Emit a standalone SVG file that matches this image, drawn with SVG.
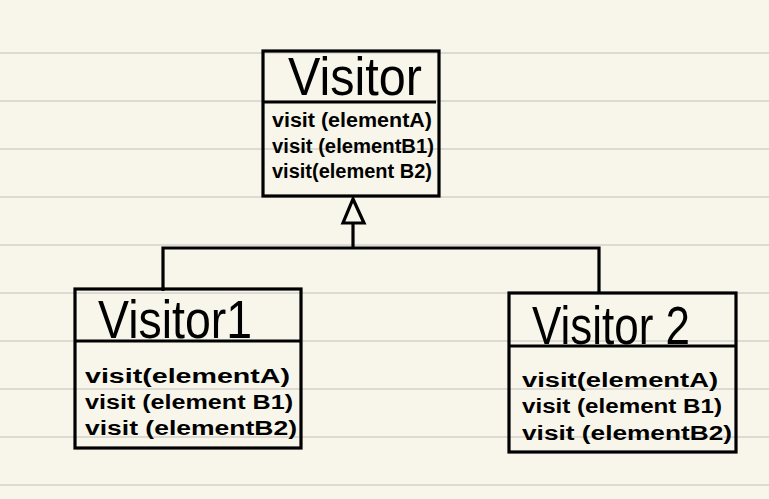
<svg xmlns="http://www.w3.org/2000/svg" width="769" height="499" viewBox="0 0 769 499">
<defs>
<style>
.bg{fill:#f8f6ea}
.rule{stroke:#dcdad3;stroke-width:2}
.box{fill:none;stroke:#000;stroke-width:3.2}
.div{stroke:#000;stroke-width:3}
.title{font-family:"Liberation Sans","DejaVu Sans",sans-serif;font-size:54px;fill:#000}
.m{font-family:"Liberation Sans","DejaVu Sans",sans-serif;font-size:20px;font-weight:bold;fill:#000}
.conn{fill:none;stroke:#000;stroke-width:3.2}
</style>
</defs>
<rect class="bg" x="0" y="0" width="769" height="499"/>
<g id="rules">
<line class="rule" x1="0" y1="53" x2="769" y2="53"/>
<line class="rule" x1="0" y1="101" x2="769" y2="101"/>
<line class="rule" x1="0" y1="149" x2="769" y2="149"/>
<line class="rule" x1="0" y1="197" x2="769" y2="197"/>
<line class="rule" x1="0" y1="245" x2="769" y2="245"/>
<line class="rule" x1="0" y1="293" x2="769" y2="293"/>
<line class="rule" x1="0" y1="341" x2="769" y2="341"/>
<line class="rule" x1="0" y1="389" x2="769" y2="389"/>
<line class="rule" x1="0" y1="437" x2="769" y2="437"/>
<line class="rule" x1="0" y1="485" x2="769" y2="485"/>
</g>
<g id="connectors">
<polyline class="conn" points="163,291 163,248 599,248 599,293"/>
<line class="conn" x1="353" y1="248" x2="353" y2="223"/>
<polygon class="conn" points="353,199 364,223 343,223" fill="#f8f6ea" style="fill:#f8f6ea"/>
</g>
<g id="Visitor">
<rect class="box" x="263" y="51" width="176" height="145"/>
<line class="div" x1="263" y1="102" x2="436" y2="102"/>
<text class="title" x="288" y="95" textLength="134" lengthAdjust="spacingAndGlyphs">Visitor</text>
<text class="m" x="272" y="127" textLength="160" lengthAdjust="spacingAndGlyphs">visit (elementA)</text>
<text class="m" x="272" y="153" textLength="162" lengthAdjust="spacingAndGlyphs">visit (elementB1)</text>
<text class="m" x="272" y="178" textLength="160" lengthAdjust="spacingAndGlyphs">visit(element B2)</text>
</g>
<g id="Visitor1">
<rect class="box" x="75" y="289" width="226" height="159"/>
<line class="div" x1="75" y1="341" x2="301" y2="341"/>
<text class="title" x="98" y="338" textLength="154" lengthAdjust="spacingAndGlyphs">Visitor1</text>
<text class="m" x="85" y="383" textLength="205" lengthAdjust="spacingAndGlyphs">visit(elementA)</text>
<text class="m" x="85" y="409" textLength="208" lengthAdjust="spacingAndGlyphs">visit (element B1)</text>
<text class="m" x="85" y="435" textLength="212" lengthAdjust="spacingAndGlyphs">visit (elementB2)</text>
</g>
<g id="Visitor2">
<rect class="box" x="509" y="293" width="227" height="159"/>
<line class="div" x1="509" y1="346" x2="736" y2="346"/>
<text class="title" x="532" y="344" textLength="158" lengthAdjust="spacingAndGlyphs">Visitor 2</text>
<text class="m" x="522" y="387" textLength="196" lengthAdjust="spacingAndGlyphs">visit(elementA)</text>
<text class="m" x="522" y="413" textLength="200" lengthAdjust="spacingAndGlyphs">visit (element B1)</text>
<text class="m" x="522" y="440" textLength="210" lengthAdjust="spacingAndGlyphs">visit (elementB2)</text>
</g>
</svg>
